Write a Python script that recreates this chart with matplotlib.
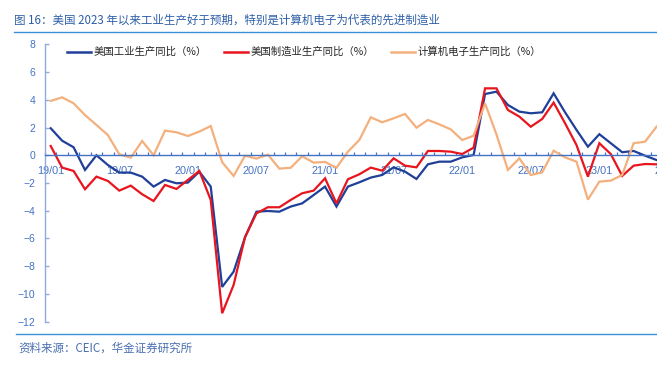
import matplotlib
matplotlib.use("Agg")
import matplotlib.pyplot as plt
from matplotlib.lines import Line2D
import numpy as np

plt.rcParams['font.family'] = ['Noto Sans CJK SC', 'DejaVu Sans']

# monthly data, 2019-01 .. 2023-06
months = np.arange(54)
ip_yoy = [1.95, 1.05, 0.58, -1.06, 0.0, -0.70, -1.25, -1.25, -1.54, -2.26, -1.78, -2.02,
          -1.97, -1.18, -2.26, -9.50, -8.40, -5.92, -4.07, -4.02, -4.07, -3.70, -3.47, -2.87,
          -2.26, -3.70, -2.26, -1.95, -1.61, -1.42, -0.87, -1.18, -1.71, -0.65, -0.46, -0.46,
          -0.15, 0.02, 4.42, 4.59, 3.63, 3.15, 3.03, 3.10, 4.47, 3.10, 1.83, 0.62,
          1.52, 0.87, 0.22, 0.31, -0.03, -0.34]
mfg_yoy = [0.67, -0.89, -1.13, -2.45, -1.54, -1.85, -2.55, -2.19, -2.81, -3.30, -2.14, -2.43,
           -1.78, -1.13, -3.22, -11.40, -9.36, -5.90, -4.19, -3.75, -3.75, -3.22, -2.74, -2.55,
           -1.66, -3.47, -1.73, -1.37, -0.89, -1.11, -0.22, -0.75, -0.87, 0.31, 0.31, 0.26,
           0.09, 0.55, 4.83, 4.83, 3.27, 2.79, 2.06, 2.62, 3.80, 2.31, 0.74, -1.54,
           0.87, 0.09, -1.49, -0.75, -0.63, -0.65]
comp_yoy = [3.92, 4.18, 3.75, 2.90, 2.19, 1.46, 0.07, -0.17, 1.03, 0.0, 1.78, 1.66,
            1.39, 1.71, 2.11, -0.50, -1.49, -0.03, -0.24, 0.05, -0.96, -0.90, -0.07, -0.53,
            -0.48, -0.90, 0.26, 1.10, 2.74, 2.38, 2.67, 2.98, 1.99, 2.55, 2.23, 1.87,
            1.10, 1.41, 3.75, 1.50, -1.06, -0.22, -1.42, -1.23, 0.33, -0.15, -0.46, -3.20,
            -1.90, -1.83, -1.42, 0.87, 0.98, 2.06]

tick_pos = np.arange(0, 55, 6)
tick_labels = ['19/01', '19/07', '20/01', '20/07', '21/01', '21/07',
               '22/01', '22/07', '23/01', '23/07']
series_names = ['美国工业生产同比（%）', '美国制造业生产同比（%）', '计算机电子生产同比（%）']
colors = ['#1F3F99', '#E8141E', '#F4B07C']

W, H = 657, 369
fig = plt.figure(figsize=(W / 100, H / 100), dpi=100)

# axes run past the right edge like the cropped original
ax = fig.add_axes([45 / W, (H - 321.6) / H, 57 * 11.43 / W, 277.2 / H])
ax.set_xlim(-0.5, 56.5)
ax.set_ylim(-12, 8)

for vals, c in zip([ip_yoy, mfg_yoy, comp_yoy], colors):
    ax.plot(months, vals, color=c, lw=1.6, solid_joinstyle='miter')

for s in ['top', 'right']:
    ax.spines[s].set_visible(False)
ax.spines['left'].set_color('#8FAADC')
ax.spines['left'].set_linewidth(1.0)
ax.spines['bottom'].set_position(('data', 0))
ax.spines['bottom'].set_color('#4472C4')
ax.spines['bottom'].set_linewidth(1.0)

ax.set_yticks(np.arange(-12, 9, 2))
ax.tick_params(axis='y', direction='in', length=3, width=1.0, color='#8FAADC',
               labelcolor='#4472C4', labelsize=7.5, pad=7)
for t in ax.get_yticklabels():
    t.set_family(['Liberation Sans', 'DejaVu Sans'])

ax.set_xticks(np.arange(-0.5, 57, 1))
ax.set_xticklabels([])
ax.tick_params(axis='x', which='major', direction='in', length=2.5, width=0.9, color='#4472C4')
ax.set_xticks(tick_pos, minor=True)
ax.set_xticklabels(tick_labels, minor=True)
ax.tick_params(axis='x', which='minor', length=0, labelcolor='#4472C4', labelsize=7.8, pad=7.5)
for t in ax.get_xticklabels(minor=True):
    t.set_family(['Liberation Sans', 'DejaVu Sans'])

# legend drawn by hand at the original spot
leg_x = [67, 224, 391]
leg_y = 1 - 52 / H
for x0, name, c in zip(leg_x, series_names, colors):
    fig.add_artist(Line2D([x0 / W, (x0 + 24) / W], [leg_y, leg_y], color=c, lw=1.8))
    fig.text((x0 + 27) / W, leg_y, name, fontsize=7.5, color='#262626', va='center', ha='left')

# title and frame lines
fig.text(14 / W, 1 - 20 / H, '图 16：美国 2023 年以来工业生产好于预期，特别是计算机电子为代表的先进制造业',
         fontsize=8.3, color='#2E5FA8', va='center', ha='left')
fig.add_artist(Line2D([14 / W, 1], [1 - 32.3 / H] * 2, color='#3A8FD9', lw=1.0))
fig.add_artist(Line2D([16 / W, 1], [1 - 334 / H] * 2, color='#3A8FD9', lw=1.0))
fig.text(18 / W, 1 - 348 / H, '资料来源：CEIC，华金证券研究所', fontsize=8.3, color='#4A6FB0',
         style='italic', va='center', ha='left')

fig.savefig('out.png', dpi=100)
